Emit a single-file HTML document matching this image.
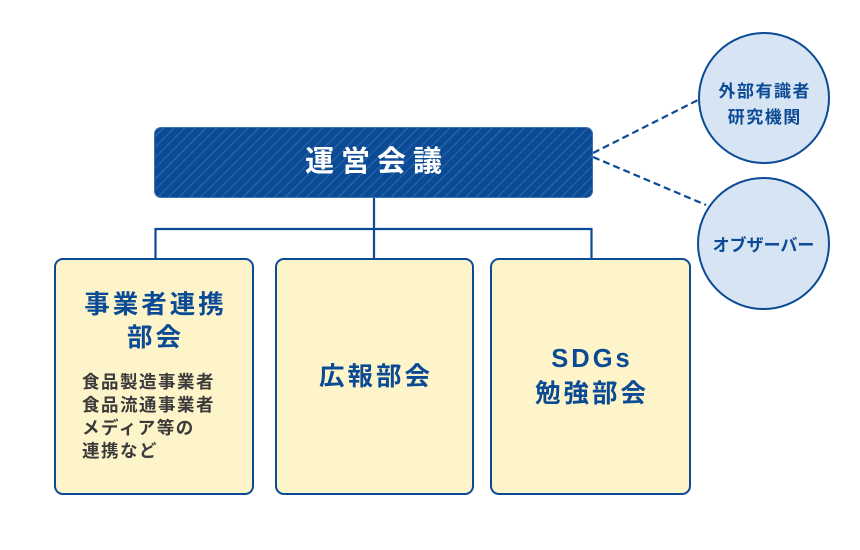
<!DOCTYPE html>
<html><head><meta charset="utf-8"><style>
html,body{margin:0;padding:0;background:#fff;}
body{width:860px;height:550px;position:relative;overflow:hidden;font-family:"Liberation Sans","Noto Sans CJK JP",sans-serif;}
.abs{position:absolute;box-sizing:border-box;}
.top{left:154px;top:127px;width:439px;height:71px;border-radius:7px;
background-color:#0b4a94;
background-image:repeating-linear-gradient(-45deg,#0b4a94 0px,#0b4a94 6px,#2460a6 6px,#2460a6 7.5px);
border:1px solid #3a72b3;color:#fff;font-weight:bold;font-size:29px;letter-spacing:7px;text-align:center;line-height:69px;padding-left:7px;}
.box{background:#fef4c9;border:2.5px solid #0b4a94;border-radius:9px;color:#0b4a94;font-weight:bold;text-align:center;}
.circ{background:#d6e4f3;border:2.5px solid #0b4a94;border-radius:50%;color:#0b4a94;font-weight:bold;text-align:center;font-size:17px;}
</style></head><body>
<svg class="abs" style="left:0;top:0" width="860" height="550">
<g stroke="#0b4a94" stroke-width="2.2" fill="none">
<path d="M374 197 V258 M155.5 258 V229 H591.5 V258"/>
<path d="M593 153 L698 100" stroke-dasharray="7,4"/>
<path d="M593 157 L706 205" stroke-dasharray="7,4"/>
</g>
</svg>
<div class="abs top">運営会議</div>
<div class="abs box" style="left:54px;top:258px;width:200px;height:237px;">
<div style="position:absolute;left:0;right:0;top:29px;font-size:25.5px;line-height:33px;letter-spacing:3px;padding-left:3px;">事業者連携<br>部会</div>
<div style="position:absolute;left:26px;top:111px;font-size:17.5px;line-height:23px;color:#3a3a3a;text-align:left;letter-spacing:1.5px;font-weight:bold;">食品製造事業者<br>食品流通事業者<br>メディア等の<br>連携など</div>
</div>
<div class="abs box" style="left:275px;top:258px;width:199px;height:237px;">
<div style="position:absolute;left:0;right:0;top:100px;font-size:25.5px;line-height:34px;letter-spacing:3px;padding-left:3px;">広報部会</div>
</div>
<div class="abs box" style="left:490px;top:258px;width:201px;height:237px;">
<div style="position:absolute;left:0;right:0;top:82px;font-size:25.5px;line-height:35px;letter-spacing:3px;padding-left:3px;">SDGs<br>勉強部会</div>
</div>
<div class="abs circ" style="left:698px;top:32px;width:132px;height:132px;">
<div style="position:absolute;left:0;right:0;top:45px;line-height:26px;letter-spacing:1.5px;padding-left:1.5px;">外部有識者<br>研究機関</div>
</div>
<div class="abs circ" style="left:697px;top:177px;width:133px;height:133px;">
<div style="position:absolute;left:0;right:0;top:54px;line-height:26px;">オブザーバー</div>
</div>
</body></html>
